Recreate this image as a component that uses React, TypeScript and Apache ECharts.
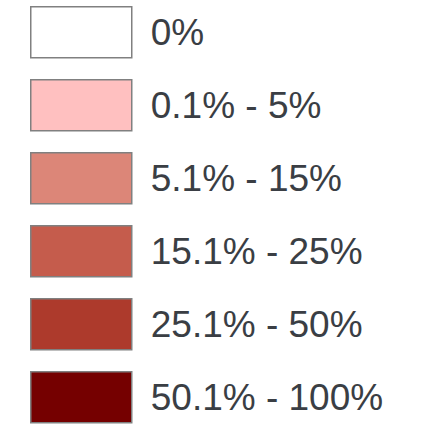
import React, { useEffect, useRef } from "react";
import * as echarts from "echarts";

const categories: string[] = ["0%", "0.1% - 5%", "5.1% - 15%", "15.1% - 25%", "25.1% - 50%", "50.1% - 100%"];
const colors: string[] = ["#ffffff", "#ffc0c0", "#dc8678", "#c55c4c", "#ad3a2c", "#750000"];

export default function App() {
  const ref = useRef<HTMLDivElement>(null);
  useEffect(() => {
    if (!ref.current) return;
    const chart = echarts.init(ref.current, undefined, { renderer: "svg" });
    chart.setOption({
      animation: false,
      grid: { show: false, left: 0, right: 0, top: 0, bottom: 0 },
      xAxis: { type: "category", show: false, data: [] },
      yAxis: { type: "value", show: false },
      legend: {
        orient: "vertical",
        left: 30,
        top: 6,
        padding: 0,
        icon: "rect",
        itemWidth: 101,
        itemHeight: 51,
        itemGap: 20.5,
        selectedMode: false,
        itemStyle: { borderColor: "#808080", borderWidth: 1.5 },
        textStyle: {
          fontFamily: "Liberation Sans, Arial, sans-serif",
          fontSize: 37,
          color: "#3a3e44",
          padding: [0, 0, 0, 14],
        },
        data: categories,
      },
      series: categories.map((name, i) => ({
        type: "bar",
        name,
        data: [],
        itemStyle: { color: colors[i], borderColor: "#808080", borderWidth: 1.5 },
      })),
    });
    return () => chart.dispose();
  }, []);
  return <div ref={ref} style={{ width: 425, height: 433, position: "absolute", left: 0, top: 0 }} />;
}
